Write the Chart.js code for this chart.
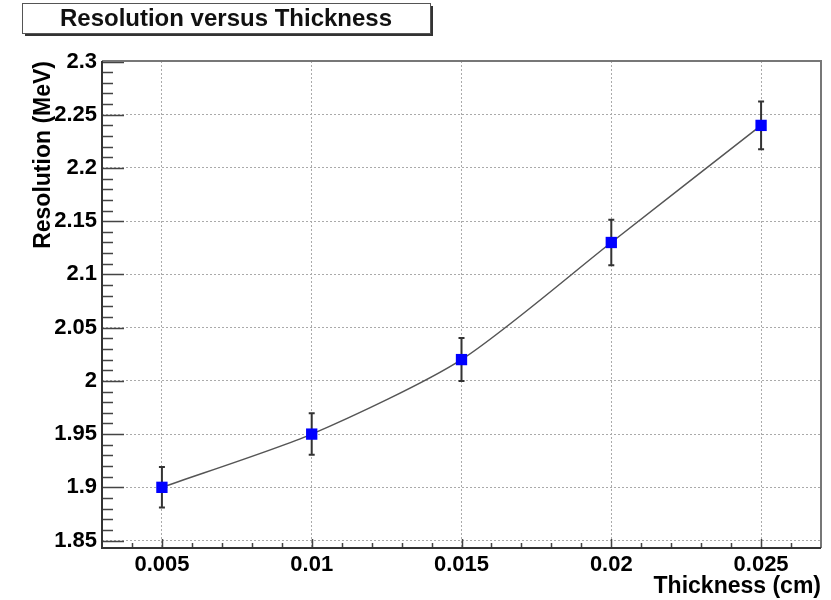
<!DOCTYPE html>
<html>
<head>
<meta charset="utf-8">
<script src="https://cdn.jsdelivr.net/npm/chart.js@4"></script>
<style>
  body { margin: 0; background: #fff; }
</style>
</head>
<body>
<canvas id="myChart" width="831" height="600"></canvas>
<script>
// data
const thickness = [0.005, 0.01, 0.015, 0.02, 0.025];
const resolution = [1.90, 1.95, 2.02, 2.13, 2.24];
const resolutionErr = [0.019, 0.0195, 0.0202, 0.0213, 0.0224];

// tick labels
const xTickValues = [0.005, 0.01, 0.015, 0.02, 0.025];
const xTickLabels = ['0.005', '0.01', '0.015', '0.02', '0.025'];
const yTickValues = [1.85, 1.9, 1.95, 2, 2.05, 2.1, 2.15, 2.2, 2.25, 2.3];
const yTickLabels = ['1.85', '1.9', '1.95', '2', '2.05', '2.1', '2.15', '2.2', '2.25', '2.3'];

const chartTitle = 'Resolution versus Thickness';
const xTitle = 'Thickness (cm)';
const yTitle = 'Resolution (MeV)';

const FONT = "'Liberation Sans', Arial, Helvetica, sans-serif";
Chart.defaults.font.family = FONT;
Chart.defaults.color = '#000';

// error bars, drawn under the line and markers
const errorBars = {
    id: 'errorBars',
    beforeDatasetsDraw(chart) {
        const {ctx, scales: {x, y}} = chart;
        ctx.save();
        ctx.strokeStyle = '#333';
        ctx.lineWidth = 2;
        thickness.forEach((t, i) => {
            const px = x.getPixelForValue(t);
            const top = y.getPixelForValue(resolution[i] + resolutionErr[i]);
            const bot = y.getPixelForValue(resolution[i] - resolutionErr[i]);
            ctx.beginPath();
            ctx.moveTo(px, top); ctx.lineTo(px, bot);
            ctx.moveTo(px - 3, top); ctx.lineTo(px + 3, top);
            ctx.moveTo(px - 3, bot); ctx.lineTo(px + 3, bot);
            ctx.stroke();
        });
        ctx.restore();
    }
};

// ROOT style frame with inward ticks, plus the boxed title
const rootFrame = {
    id: 'rootFrame',
    afterDraw(chart) {
        const {ctx, chartArea: a, scales: {x, y}} = chart;
        ctx.save();
        // minor + major ticks on y (inside, from left edge)
        ctx.strokeStyle = '#444';
        ctx.lineWidth = 1.5;
        ctx.beginPath();
        for (let k = 0; k <= 45; k++) {
            const v = 1.85 + k * 0.01;
            const py = Math.round(y.getPixelForValue(v)) + 0.5;
            const len = (k % 5 === 0) ? 22 : 11;
            ctx.moveTo(a.left, py); ctx.lineTo(a.left + len, py);
        }
        // ticks on x (inside, from bottom edge)
        for (let k = 0; k <= 22; k++) {
            const v = 0.004 + k * 0.001;
            const px = Math.round(x.getPixelForValue(v)) + 0.5;
            const len = (k % 5 === 1) ? 9 : 5;
            ctx.moveTo(px, a.bottom); ctx.lineTo(px, a.bottom - len);
        }
        ctx.stroke();

        // frame
        ctx.lineWidth = 2;
        ctx.strokeStyle = '#777';
        ctx.beginPath();
        ctx.moveTo(a.left, a.top); ctx.lineTo(a.right, a.top); ctx.lineTo(a.right, a.bottom);
        ctx.stroke();
        ctx.strokeStyle = '#333';
        ctx.beginPath();
        ctx.moveTo(a.left, a.top); ctx.lineTo(a.left, a.bottom); ctx.lineTo(a.right, a.bottom);
        ctx.stroke();

        // title box with shadow
        const bx = 22, by = 3, bw = 408, bh = 30;
        ctx.fillStyle = '#333';
        ctx.fillRect(bx + 3, by + 3, bw, bh);
        ctx.fillStyle = '#fff';
        ctx.fillRect(bx, by, bw, bh);
        ctx.strokeStyle = '#555';
        ctx.lineWidth = 1;
        ctx.strokeRect(bx + 0.5, by + 0.5, bw, bh);
        ctx.fillStyle = '#111';
        ctx.font = 'bold 24px ' + FONT;
        ctx.textAlign = 'center';
        ctx.textBaseline = 'middle';
        ctx.fillText(chartTitle, bx + bw / 2, by + bh / 2 + 1);
        ctx.restore();
    }
};

const ctx = document.getElementById('myChart');
const myChart = new Chart(ctx, {
    type: 'line',
    data: {
        datasets: [{
            data: thickness.map((t, i) => ({x: t, y: resolution[i]})),
            borderColor: '#555',
            borderWidth: 1.5,
            tension: 0.25,
            pointStyle: 'rect',
            pointRadius: 8,
            pointBackgroundColor: '#0000ff',
            pointBorderColor: '#0000ff',
            pointBorderWidth: 0,
            fill: false
        }]
    },
    options: {
        responsive: false,
        animation: false,
        layout: { padding: { top: 61, right: 10, left: 0, bottom: 0 } },
        plugins: {
            legend: { display: false },
            tooltip: { enabled: false }
        },
        scales: {
            x: {
                type: 'linear',
                min: 0.003,
                max: 0.027,
                afterFit: s => { s.height = 52; },
                afterBuildTicks: s => { s.ticks = xTickValues.map(v => ({value: v})); },
                ticks: {
                    padding: 4,
                    maxRotation: 0,
                    font: { size: 22, weight: 'bold' },
                    callback: (v, i) => xTickLabels[i]
                },
                grid: { color: '#aaa', lineWidth: 1, drawTicks: false },
                border: { display: false, dash: [2, 2] },
                title: {
                    display: true,
                    text: xTitle,
                    align: 'end',
                    font: { size: 23, weight: 'bold' },
                    padding: { top: 0, bottom: 0 }
                }
            },
            y: {
                min: 1.843,
                max: 2.3005,
                afterFit: s => { s.width = 102; },
                afterBuildTicks: s => { s.ticks = yTickValues.map(v => ({value: v})); },
                ticks: {
                    padding: 5,
                    font: { size: 22, weight: 'bold' },
                    callback: (v, i) => yTickLabels[i]
                },
                grid: { color: '#aaa', lineWidth: 1, drawTicks: false },
                border: { display: false, dash: [2, 2] },
                title: {
                    display: true,
                    text: yTitle,
                    align: 'end',
                    font: { size: 23, weight: 'bold' },
                    padding: { top: 30, bottom: 0 }
                }
            }
        }
    },
    plugins: [errorBars, rootFrame]
});
</script>
</body>
</html>
